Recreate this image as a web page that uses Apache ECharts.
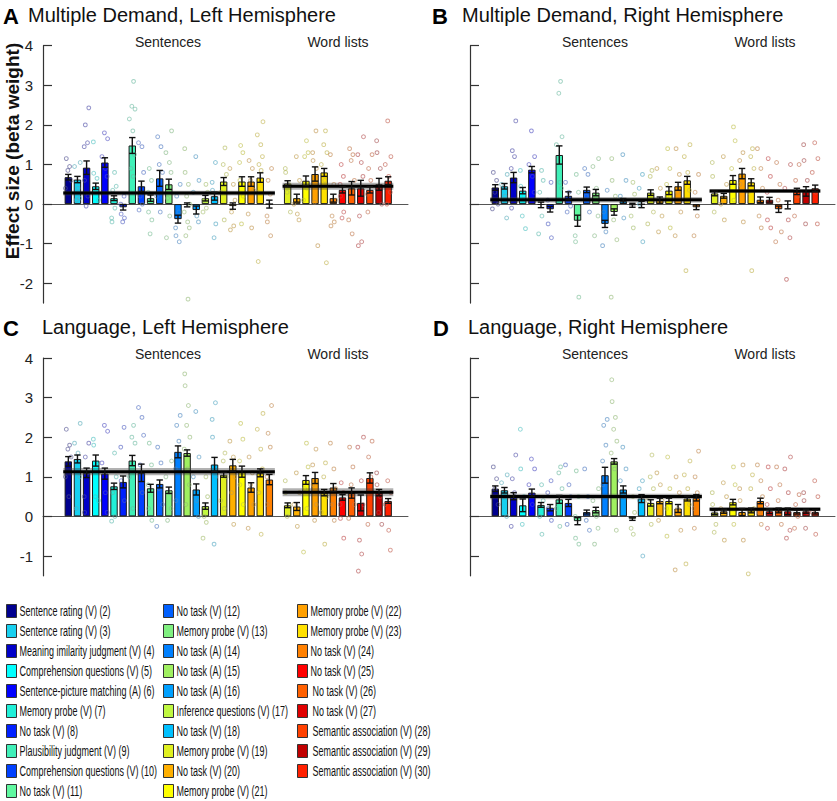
<!DOCTYPE html>
<html>
<head>
<meta charset="utf-8">
<script src="https://cdn.jsdelivr.net/npm/echarts@6/dist/echarts.min.js"></script>
<style>
  html, body { margin: 0; padding: 0; background: #fff; }
  #main { width: 837px; height: 801px; }
</style>
</head>
<body>
<div id="main"></div>
<script>
var myChart = echarts.init(document.getElementById('main'), null, { renderer: 'svg' });

// conditions shown in each group (numbers from the legend)
var sentConds = [2, 3, 4, 5, 6, 7, 8, 9, 10, 11, 12, 13, 14, 15, 16, 17, 18, 19, 20, 21, 22, 23, 24];
var wordConds = [19, 20, 21, 22, 23, 24, 25, 26, 27, 28, 29, 30];

var condNames = {
    2: 'Sentence rating (V) (2)', 3: 'Sentence rating (V) (3)', 4: 'Meaning imilarity judgment (V) (4)',
    5: 'Comprehension questions (V) (5)', 6: 'Sentence-picture matching (A) (6)', 7: 'Memory probe (V) (7)',
    8: 'No task (V) (8)', 9: 'Plausibility judgment (V) (9)', 10: 'Comprehension questions (V) (10)',
    11: 'No task (V) (11)', 12: 'No task (V) (12)', 13: 'Memory probe (V) (13)', 14: 'No task (A) (14)',
    15: 'No task (A) (15)', 16: 'No task (A) (16)', 17: 'Inference questions (V) (17)', 18: 'No task (V) (18)',
    19: 'Memory probe (V) (19)', 20: 'No task (V) (20)', 21: 'Memory probe (V) (21)', 22: 'Memory probe (V) (22)',
    23: 'Memory probe (V) (23)', 24: 'No task (V) (24)', 25: 'No task (V) (25)', 26: 'No task (V) (26)',
    27: 'No task (V) (27)', 28: 'Semantic association (V) (28)', 29: 'Semantic association (V) (29)',
    30: 'Semantic association (V) (30)'
};
var condColors = {
    2: '#00008f', 3: '#18d0f0', 4: '#0000c8', 5: '#00ffff', 6: '#0000ff', 7: '#20f0d8',
    8: '#0020ff', 9: '#40f0b8', 10: '#0040ff', 11: '#60f8a0', 12: '#0060ff', 13: '#80f080',
    14: '#0080ff', 15: '#a0f060', 16: '#00a0ff', 17: '#c0f840', 18: '#00c0ff', 19: '#e0f020',
    20: '#ffb000', 21: '#ffff00', 22: '#ffa000', 23: '#ffe000', 24: '#ff8000', 25: '#ff0000',
    26: '#ff6000', 27: '#e00000', 28: '#ff4000', 29: '#c00000', 30: '#ff2000'
};
var legendCols = [[2, 3, 4, 5, 6, 7, 8, 9, 10, 11], [12, 13, 14, 15, 16, 17, 18, 19, 20, 21], [22, 23, 24, 25, 26, 27, 28, 29, 30]];
var yTicks = [-2, -1, 0, 1, 2, 3, 4];

// ---- A: Multiple Demand, Left Hemisphere
var aSent = [0.68, 0.62, 0.92, 0.45, 1.05, 0.15, -0.08, 1.48, 0.45, 0.15, 0.65, 0.5, -0.38, -0.02, -0.15, 0.15, 0.2, 0.57, -0.05, 0.57, 0.57, 0.67, 0.0];
var aSentErr = [0.07, 0.08, 0.17, 0.08, 0.12, 0.06, 0.07, 0.2, 0.13, 0.08, 0.2, 0.13, 0.1, 0.05, 0.1, 0.07, 0.1, 0.1, 0.08, 0.12, 0.12, 0.12, 0.1];
var aWord = [0.52, 0.15, 0.59, 0.76, 0.8, 0.15, 0.36, 0.4, 0.4, 0.36, 0.5, 0.59];
var aWordErr = [0.07, 0.1, 0.12, 0.18, 0.1, 0.1, 0.08, 0.17, 0.2, 0.08, 0.15, 0.1];
var aMean = [0.28, 0.45];
var aMeanErr = [0.06, 0.09];
var aDots = [
    [1.15, 0.95, 0.85, 0.6, 0.4], [1.05, 0.95, 0.4, 0.15, 0.1], [2.43, 2.0, 1.55, 1.45, 0.6, 0.2, -0.05],
    [1.57, 0.78, 0.65, 0.3, 0.1], [1.8, 1.65, 1.2, 0.9, 0.7], [0.8, 0.45, 0.35, -0.1, -0.35, -0.45],
    [0.2, 0.0, -0.25, -0.35, -0.45], [3.1, 2.47, 2.4, 2.15, 1.85, 1.25, 0.9, 0.7], [1.55, 1.45, 0.8, 0.2, 0.0, -0.15],
    [0.9, 0.6, 0.3, -0.2, -0.4, -0.75], [1.7, 1.45, 1.0, 0.8, 0.2, -0.2], [1.85, 1.3, 1.05, 0.8, 0.15, -0.3, -0.85],
    [0.5, 0.2, -0.2, -0.6, -0.8, -0.95], [1.4, 0.8, 0.5, 0.2, 0.0, -0.2, -0.45, -0.6, -0.8, -2.4], [1.2, 0.6, 0.3, -0.3, -0.45],
    [0.5, 0.3, 0.1, -0.1, -0.2], [1.05, 0.55, 0.35, -0.5, -0.85], [1.42, 1.0, 0.75, 0.3, -0.4],
    [0.9, 0.5, 0.1, -0.2, -0.55, -0.65], [1.48, 1.3, 1.05, 0.6, 0.2, -0.5], [1.1, 0.9, 0.6, 0.35, -0.25, -0.6],
    [2.08, 1.75, 1.5, 1.2, 1.0, 0.85, 0.3, -1.45], [0.9, 0.6, 0.25, -0.3, -0.45, -0.8],
    [0.9, 0.8, 0.5, 0.3, -0.2], [1.2, 0.6, 0.0, -0.25, -0.4], [1.6, 1.3, 1.2, 0.4, 0.1],
    [1.85, 1.3, 1.1, 0.9, 0.05, -1.05], [1.85, 1.5, 1.3, 1.0, 0.6, -1.48], [1.25, 0.5, 0.1, -0.3, -0.45, -0.55],
    [1.0, 0.7, 0.5, 0.2, -0.2, -0.35], [1.4, 1.25, 1.1, 0.6, -0.4, -0.75], [1.7, 1.25, 1.05, 0.7, -0.3, -0.95, -1.05],
    [1.25, 0.9, 0.6, 0.25, -0.2], [1.6, 1.3, 0.9, 0.4, 0.0], [2.1, 1.2, 1.0, 0.7, 0.3, 0.0]
];

// ---- B: Multiple Demand, Right Hemisphere
var bSent = [0.42, 0.45, 0.67, 0.34, 0.87, -0.02, -0.13, 1.24, 0.21, -0.42, 0.36, 0.29, -0.5, -0.2, 0.08, -0.03, -0.01, 0.29, 0.1, 0.34, 0.45, 0.6, -0.08];
var bSentErr = [0.07, 0.07, 0.13, 0.08, 0.08, 0.07, 0.07, 0.23, 0.1, 0.14, 0.07, 0.08, 0.09, 0.08, 0.06, 0.05, 0.08, 0.07, 0.08, 0.1, 0.1, 0.1, 0.06];
var bWord = [0.27, 0.21, 0.61, 0.77, 0.55, 0.11, 0.11, -0.13, -0.02, 0.32, 0.32, 0.4];
var bWordErr = [0.06, 0.06, 0.11, 0.13, 0.09, 0.07, 0.06, 0.08, 0.1, 0.08, 0.12, 0.08];
var bMean = [0.11, 0.33];
var bMeanErr = [0.07, 0.05];
var bDots = [
    [0.8, 0.6, 0.3, 0.0, -0.12], [0.75, 0.5, 0.2, -0.35], [2.1, 1.35, 1.2, 0.9, -0.1],
    [0.85, 0.45, 0.2, -0.3, -0.62], [1.85, 1.2, 1.0, 0.7, 0.3], [0.85, 0.6, 0.3, -0.3, -0.75],
    [0.55, 0.1, -0.5, -0.85], [3.1, 2.8, 1.7, 1.5, 0.55, 0.4], [0.55, 0.3, -0.05, -0.2],
    [0.75, 0.3, -0.8, -0.95, -2.35], [0.9, 0.75, 0.2, -0.2], [1.15, 0.95, 0.4, -0.3, -0.8],
    [0.35, -0.2, -0.7, -1.05], [1.15, 0.6, 0.2, -0.4, -0.9, -2.35], [1.25, 0.6, 0.2, -0.35],
    [0.55, 0.25, -0.3, -0.6], [0.75, 0.4, 0.0, -0.95], [0.85, 0.7, -0.2, -0.5],
    [0.9, 0.4, -0.3, -0.7], [1.4, 0.9, 0.5, 0.2, -0.6], [1.4, 0.75, 0.3, -0.2, -0.8],
    [1.5, 1.2, 0.8, 0.35, -1.68], [0.75, 0.3, -0.3, -0.8],
    [1.05, 0.7, 0.3, -0.2], [1.2, 0.5, 0.0, -0.4], [1.95, 1.6, 0.9, 0.1],
    [1.3, 1.1, 0.5, -0.45], [1.4, 1.2, 0.9, 0.3, -1.68], [1.4, 0.9, 0.4, -0.3, -0.6],
    [1.15, 0.7, 0.3, -0.4, -0.6], [1.05, 0.5, 0.1, -0.7, -0.95], [1.0, 0.4, -0.4, -0.85, -1.9],
    [1.0, 0.6, 0.2, -0.3], [1.5, 1.1, 0.6, -0.5], [1.55, 1.15, 0.8, 0.3, -0.5]
];

// ---- C: Language, Left Hemisphere
var cSent = [1.39, 1.45, 1.1, 1.41, 1.08, 0.76, 0.87, 1.41, 1.1, 0.71, 0.82, 0.66, 1.63, 1.6, 0.68, 0.26, 1.31, 1.05, 1.29, 1.13, 0.73, 1.1, 0.93];
var cSentErr = [0.12, 0.1, 0.12, 0.14, 0.14, 0.08, 0.15, 0.13, 0.22, 0.1, 0.1, 0.08, 0.15, 0.08, 0.14, 0.08, 0.18, 0.06, 0.15, 0.14, 0.12, 0.1, 0.13];
var cWord = [0.28, 0.25, 0.92, 0.97, 0.6, 0.73, 0.48, 0.59, 0.34, 0.97, 0.6, 0.39];
var cWordErr = [0.06, 0.1, 0.11, 0.14, 0.08, 0.1, 0.07, 0.13, 0.2, 0.13, 0.08, 0.06];
var cMean = [1.13, 0.61];
var cMeanErr = [0.09, 0.1];
var cDots = [
    [2.2, 1.8, 1.7, 1.5, 1.0, 0.5], [2.35, 1.85, 1.6, 1.0, 0.2], [1.85, 1.5, 1.1, 0.5, 0.1],
    [1.95, 1.8, 1.3, 0.5, 0.4], [2.3, 2.15, 1.35, 0.6, 0.1], [1.6, 1.0, 0.6, 0.0, -0.12],
    [2.25, 1.75, 0.9, 0.4], [2.3, 2.0, 1.85, 1.0, 0.2], [2.75, 2.5, 2.05, 1.3, 0.6],
    [1.85, 1.3, 0.8, 0.2, -0.1], [1.75, 1.35, 0.7, 0.3, -0.25], [1.4, 1.0, 0.6, 0.2, -0.1],
    [2.55, 2.3, 1.9, 1.2, 0.4], [3.6, 3.3, 2.8, 2.3, 2.0, 1.7, 1.2, 0.8, 0.3], [2.65, 1.5, 1.0, 0.4, 0.0],
    [1.0, 0.5, 0.0, -0.15, -0.55], [2.87, 2.45, 2.0, 1.0, -0.7], [1.6, 1.4, 1.0, 0.4, 0.2],
    [1.9, 1.5, 1.0, 0.6, -0.2], [2.35, 1.95, 1.4, 0.8, 0.3], [1.5, 1.1, 0.8, 0.3, -0.3],
    [2.6, 2.2, 1.7, 1.2, 0.6, -0.45], [2.8, 2.1, 1.75, 1.0, 0.3],
    [0.9, 0.6, 0.3, 0.0], [1.1, 0.6, 0.3, -0.25], [1.85, 1.25, 0.7, 0.2, -0.9],
    [1.7, 1.3, 0.8, 0.3, -0.1], [1.35, 1.0, 0.5, 0.1, -0.7], [1.85, 1.2, 0.7, 0.3, -0.1],
    [0.85, 0.6, 0.3, -0.05, -0.55], [1.75, 1.25, 0.8, 0.3, -0.05], [2.0, 1.75, 0.9, 0.3, -0.6, -0.95, -1.38],
    [1.9, 1.5, 1.0, 0.6, -0.2], [1.1, 0.8, 0.5, 0.1, -0.2], [0.9, 0.6, 0.3, -0.35, -0.85]
];

// ---- D: Language, Right Hemisphere
var dSent = [0.7, 0.66, 0.51, 0.28, 0.6, 0.29, 0.22, 0.43, 0.34, -0.12, 0.11, 0.16, 1.04, 1.39, 0.68, -0.06, 0.45, 0.34, 0.39, 0.39, 0.2, 0.45, 0.47];
var dSentErr = [0.07, 0.07, 0.09, 0.16, 0.09, 0.06, 0.08, 0.1, 0.09, 0.09, 0.05, 0.07, 0.2, 0.07, 0.09, 0.04, 0.1, 0.08, 0.07, 0.07, 0.1, 0.06, 0.08];
var dWord = [0.1, 0.13, 0.36, 0.11, 0.15, 0.39, 0.13, 0.15, 0.13, 0.11, 0.13, 0.11];
var dWordErr = [0.05, 0.05, 0.07, 0.09, 0.06, 0.07, 0.06, 0.06, 0.08, 0.05, 0.05, 0.05];
var dMean = [0.5, 0.18];
var dMeanErr = [0.07, 0.05];
var dDots = [
    [1.25, 0.95, 0.7, 0.3], [1.05, 0.85, 0.5, 0.0], [1.55, 0.95, 0.6, -0.25],
    [2.2, 1.2, 0.5, -0.2], [1.45, 1.2, 0.8, 0.3], [0.8, 0.4, 0.0, -0.45],
    [0.9, 0.6, 0.2, -0.1], [1.25, 1.1, 0.7, 0.2, -0.25], [1.3, 0.8, 0.5, -0.2],
    [1.15, 0.5, 0.0, -0.55, -0.7], [1.2, 0.5, -0.1, -0.35], [0.7, 0.4, 0.0, -0.3, -0.7],
    [2.45, 2.3, 1.8, 1.4, 0.8], [3.45, 2.9, 2.5, 2.2, 1.9, 1.6, 1.2, -0.35], [1.75, 1.2, 0.9, 0.5],
    [0.5, 0.1, -0.3, -0.45], [0.9, 0.7, 0.4, -1.0], [1.55, 1.0, 0.7, 0.4, -0.2],
    [1.1, 0.8, 0.4, -0.1], [1.5, 0.7, 0.2, -0.5], [1.0, 0.6, 0.2, -0.35, -1.35],
    [1.4, 1.05, 0.7, 0.3, -1.2], [1.65, 1.0, 0.6, 0.2, -0.3],
    [0.6, 0.3, -0.2, -0.4], [0.85, 0.5, 0.2, -0.6], [1.25, 0.8, 0.3, -0.2],
    [1.3, 0.7, 0.4, -0.6], [1.05, 0.7, 0.2, -1.45], [1.3, 0.9, 0.5, 0.1, -0.2],
    [1.25, 0.7, 0.3, -0.3], [1.25, 0.8, 0.4, -0.2], [1.5, 1.2, 0.6, -0.35, -0.55],
    [0.55, 0.3, 0.0, -0.3], [0.6, 0.4, 0.1, -0.3], [0.9, 0.5, 0.1, -0.45]
];

var panels = [
    { sent: aSent, sentErr: aSentErr, word: aWord, wordErr: aWordErr, mean: aMean, meanErr: aMeanErr, dots: aDots },
    { sent: bSent, sentErr: bSentErr, word: bWord, wordErr: bWordErr, mean: bMean, meanErr: bMeanErr, dots: bDots },
    { sent: cSent, sentErr: cSentErr, word: cWord, wordErr: cWordErr, mean: cMean, meanErr: cMeanErr, dots: cDots },
    { sent: dSent, sentErr: dSentErr, word: dWord, wordErr: dWordErr, mean: dMean, meanErr: dMeanErr, dots: dDots }
];

// layout
var grids = [
    { left: 43, top: 45.7, width: 365, height: 257.4 },
    { left: 470, top: 45.7, width: 365, height: 257.4 },
    { left: 43, top: 358, width: 365, height: 217.8 },
    { left: 470, top: 358, width: 365, height: 217.8 }
];
var yMins = [-2.5, -2.5, -1.5, -1.5];
var wordStart = 24; // one empty slot between the two groups
var jitter = [-0.22, 0.14, -0.05, 0.3, -0.32, 0.06, 0.24, -0.14, 0.1, -0.26];
var FONT = '"Liberation Sans", Arial, sans-serif';

function fade(hex, a) {
    var r = parseInt(hex.substr(1, 2), 16), g = parseInt(hex.substr(3, 2), 16), b = parseInt(hex.substr(5, 2), 16);
    // pull toward grey, the dots look washed out
    r = Math.round(r * 0.45 + 140 * 0.55); g = Math.round(g * 0.45 + 140 * 0.55); b = Math.round(b * 0.45 + 140 * 0.55);
    return 'rgba(' + r + ',' + g + ',' + b + ',' + a + ')';
}

function renderErr(params, api) {
    var x = api.value(0), y = api.value(1), e = api.value(2);
    var top = api.coord([x, y + e]), bot = api.coord([x, y - e]);
    var hw = 3.2;
    var st = { stroke: '#111', lineWidth: 1.4 };
    return {
        type: 'group', children: [
            { type: 'line', shape: { x1: top[0], y1: top[1], x2: bot[0], y2: bot[1] }, style: st },
            { type: 'line', shape: { x1: top[0] - hw, y1: top[1], x2: top[0] + hw, y2: top[1] }, style: st },
            { type: 'line', shape: { x1: bot[0] - hw, y1: bot[1], x2: bot[0] + hw, y2: bot[1] }, style: st }
        ]
    };
}

function renderBand(params, api) {
    var x0 = api.value(0), x1 = api.value(1), m = api.value(2), se = api.value(3);
    var p0 = api.coord([x0, m + se]), p1 = api.coord([x1, m - se]);
    var m0 = api.coord([x0, m]), m1 = api.coord([x1, m]);
    return {
        type: 'group', children: [
            { type: 'rect', shape: { x: p0[0], y: p0[1], width: p1[0] - p0[0], height: p1[1] - p0[1] }, style: { fill: 'rgba(60,60,60,0.4)' } },
            { type: 'line', shape: { x1: m0[0], y1: m0[1], x2: m1[0], y2: m1[1] }, style: { stroke: '#000', lineWidth: 3 } }
        ]
    };
}

var xAxes = [], yAxes = [], series = [];
panels.forEach(function (p, k) {
    xAxes.push({
        gridIndex: k, type: 'value', min: -2.77, max: 37.17,
        axisLine: { show: true, onZero: true, lineStyle: { color: '#555', width: 1 } },
        axisTick: { show: false }, axisLabel: { show: false }, splitLine: { show: false }
    });
    yAxes.push({
        gridIndex: k, type: 'value', min: yMins[k], max: 4,
        axisLine: { show: true, onZero: false, lineStyle: { color: '#333', width: 1.2 } },
        axisTick: { show: true, inside: true, length: 9, customValues: yTicks, lineStyle: { color: '#333', width: 1.2 } },
        axisLabel: { show: k % 2 === 0, customValues: yTicks, fontSize: 15, color: '#222', margin: 10, fontFamily: FONT },
        splitLine: { show: false }
    });

    var bars = [], errs = [], dots = [];
    var addGroup = function (conds, vals, es, offset) {
        conds.forEach(function (c, i) {
            var x = offset + i;
            bars.push({ value: [x, vals[i]], itemStyle: { color: condColors[c] } });
            errs.push([x, vals[i], es[i]]);
        });
    };
    addGroup(sentConds, p.sent, p.sentErr, 0);
    addGroup(wordConds, p.word, p.wordErr, wordStart);

    var allConds = sentConds.concat(wordConds);
    p.dots.forEach(function (list, j) {
        var x = j < sentConds.length ? j : wordStart + (j - sentConds.length);
        var col = fade(condColors[allConds[j]], 0.75);
        list.forEach(function (v, n) {
            dots.push({ value: [x + jitter[(n + j * 3) % jitter.length], v], itemStyle: { borderColor: col } });
        });
    });

    series.push({
        type: 'bar', xAxisIndex: k, yAxisIndex: k, data: bars, barWidth: 7.4, z: 2,
        itemStyle: { borderColor: '#1a1a1a', borderWidth: 1 }
    });
    series.push({
        type: 'scatter', xAxisIndex: k, yAxisIndex: k, data: dots, symbol: 'circle', symbolSize: 3.8, z: 3,
        itemStyle: { color: 'rgba(255,255,255,0)', borderWidth: 1 }
    });
    series.push({
        type: 'custom', xAxisIndex: k, yAxisIndex: k, renderItem: renderBand, z: 4,
        encode: { x: [0, 1], y: 2 },
        data: [[-0.55, sentConds.length - 1 + 0.6, p.mean[0], p.meanErr[0]],
               [wordStart - 0.55, wordStart + wordConds.length - 1 + 0.56, p.mean[1], p.meanErr[1]]]
    });
    series.push({
        type: 'custom', xAxisIndex: k, yAxisIndex: k, renderItem: renderErr, z: 5,
        encode: { x: 0, y: 1 }, data: errs
    });
});

// legend: three columns of swatches, narrow text as in the figure
var legendLefts = [6, 163, 297];
var legendGraphics = [];
legendCols.forEach(function (col, i) {
    col.forEach(function (c, r) {
        var cy = 611 + r * 20;
        legendGraphics.push({
            type: 'rect', shape: { x: legendLefts[i] + 0.5, y: cy - 6.5, width: 10, height: 13 },
            style: { fill: condColors[c], stroke: '#333', lineWidth: 1 }
        });
        legendGraphics.push({
            type: 'text', x: legendLefts[i] + 13.5 + (i === 2 && c >= 26 ? 2 : 0), y: cy, scaleX: 0.6,
            style: { text: condNames[c], font: '15px ' + FONT, fill: '#111', textVerticalAlign: 'middle' }
        });
    });
});

function groupLabel(x, y, t) {
    return { type: 'text', x: x, y: y, style: { text: t, font: '14px ' + FONT, fill: '#222', textAlign: 'center', textVerticalAlign: 'middle' } };
}

var titleStyle = { fontSize: 20, fontWeight: 'normal', color: '#111', fontFamily: FONT };
var letterStyle = { fontSize: 22, fontWeight: 'bold', color: '#000', fontFamily: FONT };
option = {
    backgroundColor: '#fff',
    animation: false,
    title: [
        { text: 'A', left: 3, top: 5, padding: 0, textStyle: letterStyle },
        { text: 'Multiple Demand, Left Hemisphere', left: 28, top: 5, padding: 0, textStyle: titleStyle },
        { text: 'B', left: 432, top: 5, padding: 0, textStyle: letterStyle },
        { text: 'Multiple Demand, Right Hemisphere', left: 462, top: 5, padding: 0, textStyle: titleStyle },
        { text: 'C', left: 3, top: 317, padding: 0, textStyle: letterStyle },
        { text: 'Language, Left Hemisphere', left: 42, top: 317, padding: 0, textStyle: titleStyle },
        { text: 'D', left: 433, top: 317, padding: 0, textStyle: letterStyle },
        { text: 'Language, Right Hemisphere', left: 468, top: 317, padding: 0, textStyle: titleStyle }
    ],
    graphic: [
        { type: 'text', x: 12, y: 151, rotation: Math.PI / 2, style: { text: 'Effect size (beta weight)', font: 'bold 19px ' + FONT, fill: '#111', textAlign: 'center', textVerticalAlign: 'middle' } },
        groupLabel(168, 42, 'Sentences'), groupLabel(338, 42, 'Word lists'),
        groupLabel(595, 42, 'Sentences'), groupLabel(765, 42, 'Word lists'),
        groupLabel(168, 354, 'Sentences'), groupLabel(338, 354, 'Word lists'),
        groupLabel(595, 354, 'Sentences'), groupLabel(765, 354, 'Word lists')
    ].concat(legendGraphics),
    grid: grids,
    xAxis: xAxes,
    yAxis: yAxes,
    series: series
};

myChart.setOption(option);
window.onresize = myChart.resize;
</script>
</body>
</html>
